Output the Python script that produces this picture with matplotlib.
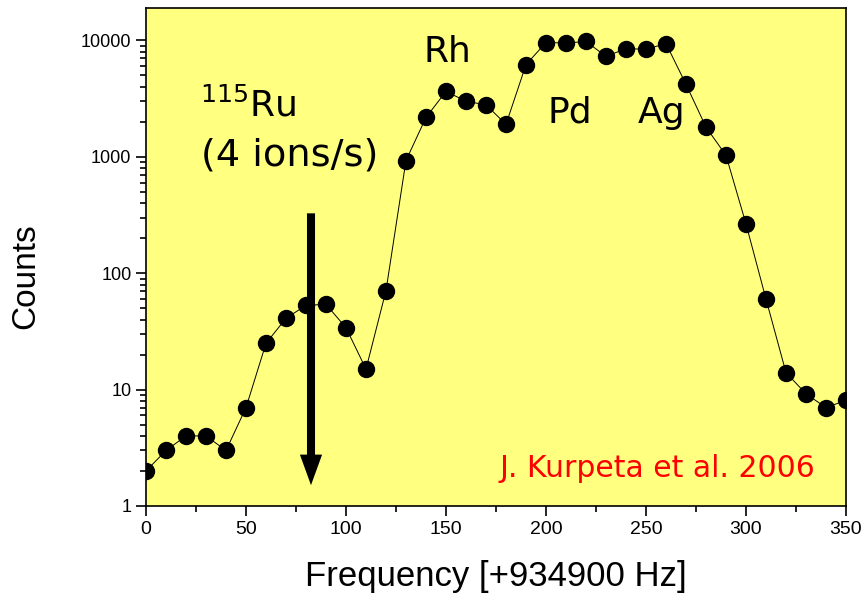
import matplotlib
matplotlib.use("Agg")
import matplotlib.pyplot as plt
from matplotlib.ticker import LogLocator, MultipleLocator, NullFormatter, FixedLocator, FixedFormatter

# data
freq = [0, 10, 20, 30, 40, 50, 60, 70, 80, 90, 100, 110, 120, 130, 140, 150, 160, 170,
        180, 190, 200, 210, 220, 230, 240, 250, 260, 270, 280, 290, 300, 310, 320, 330,
        340, 350]
counts = [2, 3, 4, 4, 3, 7, 25, 41, 53, 54, 34, 15, 71, 930, 2180, 3650, 3000, 2800,
          1900, 6200, 9600, 9500, 9800, 7300, 8500, 8400, 9400, 4200, 1800, 1030, 265, 60, 14, 9.2,
          7, 8.1]
ytick_vals = [1, 10, 100, 1000, 10000]
ytick_labels = ["1", "10", "100", "1000", "10000"]

plt.rcParams['font.family'] = ['Liberation Sans', 'DejaVu Sans']

fig = plt.figure(figsize=(8.67, 6.01), dpi=100)
ax = fig.add_axes([146 / 867, 1 - 506 / 601, 700 / 867, 498 / 601])
ax.set_facecolor('#ffff80')

ax.plot(freq, counts, color='black', lw=0.7, marker='o', markersize=11.5,
        markerfacecolor='black', markeredgecolor='black')

ax.set_yscale('log')
ax.set_xlim(0, 350)
ax.set_ylim(1, 19000)

ax.xaxis.set_major_locator(MultipleLocator(50))
ax.xaxis.set_minor_locator(MultipleLocator(25))
ax.yaxis.set_major_locator(FixedLocator(ytick_vals))
ax.yaxis.set_major_formatter(FixedFormatter(ytick_labels))
ax.yaxis.set_minor_locator(LogLocator(base=10, subs=range(2, 10)))
ax.yaxis.set_minor_formatter(NullFormatter())

ax.tick_params(which='major', direction='out', length=7, width=1.2, labelsize=13)
ax.tick_params(axis='x', which='major', labelsize=14)
ax.tick_params(which='minor', direction='out', length=4, width=1.2)
for s in ax.spines.values():
    s.set_linewidth(1.2)

ax.set_xlabel("Frequency [+934900 Hz]", fontsize=25, labelpad=16)
ax.set_ylabel("Counts", fontsize=24)
ax.yaxis.set_label_coords(-0.149, 0.462)

# annotations
ann = ['DejaVu Sans']
ax.text(27, 2760, r"$^{115}$Ru", fontsize=26, family=ann, va='center', ha='left')
ax.text(27.5, 1030, "(4 ions/s)", fontsize=27.5, family=ann, va='center', ha='left')
ax.text(150.5, 7900, "Rh", fontsize=26, family=ann, va='center', ha='center')
ax.text(212, 2400, "Pd", fontsize=26, family=ann, va='center', ha='center')
ax.text(258, 2400, "Ag", fontsize=26, family=ann, va='center', ha='center')
ax.text(334.5, 2.12, "J. Kurpeta et al. 2006", fontsize=21.5, family=ann, color='red',
        va='center', ha='right')

ax.annotate("", xy=(82.5, 1.51), xytext=(82.5, 327),
            arrowprops=dict(width=5.8, headwidth=16, headlength=22, color='black',
                            lw=0, shrink=0))

fig.savefig("out.png", dpi=100)
